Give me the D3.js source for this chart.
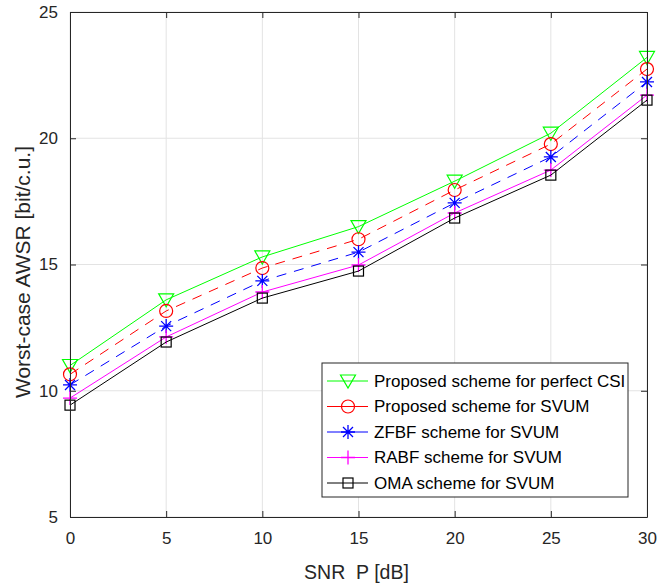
<!DOCTYPE html>
<html>
<head>
<meta charset="utf-8">
<script src="https://cdn.jsdelivr.net/npm/d3@7"></script>
<style>
  body { margin: 0; background: #fff; }
  svg { font-family: "Liberation Sans", Arial, sans-serif; }
</style>
</head>
<body>
<div id="chart"></div>
<script>
// Chart data
const snr = [0, 5, 10, 15, 20, 25, 30];
const perfectCsi = [11.0, 13.6, 15.3, 16.5, 18.3, 20.2, 23.2];
const proposedSvum = [10.65, 13.16, 14.86, 16.0, 17.95, 19.77, 22.74];
const zfbfSvum = [10.23, 12.56, 14.35, 15.49, 17.44, 19.26, 22.23];
const rabfSvum = [9.71, 12.13, 13.91, 14.98, 17.04, 18.74, 21.71];
const omaSvum = [9.43, 11.93, 13.67, 14.74, 16.84, 18.54, 21.51];
const xTicks = [0, 5, 10, 15, 20, 25, 30];
const yTicks = [5, 10, 15, 20, 25];

const seriesNames = [
    "Proposed scheme for perfect CSI",
    "Proposed scheme for SVUM",
    "ZFBF scheme for SVUM",
    "RABF scheme for SVUM",
    "OMA scheme for SVUM"
];

const WIDTH = 672;
const HEIGHT = 585;
const MARGIN = { left: 70, top: 12, right: 25, bottom: 68 };

const series = [
    { name: seriesNames[0], values: perfectCsi, color: "#00ff00", dash: null, marker: "triangle" },
    { name: seriesNames[1], values: proposedSvum, color: "#ff0000", dash: "10,8", marker: "circle" },
    { name: seriesNames[2], values: zfbfSvum, color: "#0000ff", dash: "10,8", marker: "star" },
    { name: seriesNames[3], values: rabfSvum, color: "#ff00ff", dash: null, marker: "plus" },
    { name: seriesNames[4], values: omaSvum, color: "#000000", dash: null, marker: "square" }
];

const svg = d3.select("#chart").append("svg")
    .attr("width", WIDTH).attr("height", HEIGHT);

const plotW = WIDTH - MARGIN.left - MARGIN.right;
const plotH = HEIGHT - MARGIN.top - MARGIN.bottom;

const x = d3.scaleLinear().domain([0, 30]).range([0, plotW]);
const y = d3.scaleLinear().domain([5, 25]).range([plotH, 0]);

const g = svg.append("g").attr("transform", `translate(${MARGIN.left},${MARGIN.top})`);

// grid
g.append("g").selectAll("line").data(xTicks).join("line")
    .attr("x1", d => x(d)).attr("x2", d => x(d))
    .attr("y1", 0).attr("y2", plotH)
    .attr("stroke", "#e3e3e3").attr("stroke-width", 1);
g.append("g").selectAll("line").data(yTicks).join("line")
    .attr("x1", 0).attr("x2", plotW)
    .attr("y1", d => y(d)).attr("y2", d => y(d))
    .attr("stroke", "#e3e3e3").attr("stroke-width", 1);

// marker drawing
function drawMarker(sel, type, color) {
    if (type === "triangle") {
        sel.append("path").attr("d", "M-7.5,-6 L7.5,-6 L0,7 Z")
            .attr("fill", "none").attr("stroke", color).attr("stroke-width", 1.2);
    } else if (type === "circle") {
        sel.append("circle").attr("r", 6.5)
            .attr("fill", "none").attr("stroke", color).attr("stroke-width", 1.2);
    } else if (type === "star") {
        sel.append("path").attr("d", "M-7,0 L7,0 M0,-7 L0,7 M-5,-5 L5,5 M-5,5 L5,-5")
            .attr("stroke", color).attr("stroke-width", 1.3);
    } else if (type === "plus") {
        sel.append("path").attr("d", "M-7,0 L7,0 M0,-7 L0,7")
            .attr("stroke", color).attr("stroke-width", 1.3);
    } else if (type === "square") {
        sel.append("rect").attr("x", -5).attr("y", -5).attr("width", 10).attr("height", 10)
            .attr("fill", "none").attr("stroke", color).attr("stroke-width", 1.2);
    }
}

const line = d3.line().x((d, i) => x(snr[i])).y(d => y(d));

series.forEach(s => {
    g.append("path").datum(s.values)
        .attr("fill", "none")
        .attr("stroke", s.color)
        .attr("stroke-width", 1)
        .attr("stroke-dasharray", s.dash)
        .attr("d", line);
    s.values.forEach((v, i) => {
        const m = g.append("g").attr("transform", `translate(${x(snr[i])},${y(v)})`);
        drawMarker(m, s.marker, s.color);
    });
});

// axes (box with inward ticks)
const xAxis = g.append("g").attr("transform", `translate(0,${plotH})`)
    .call(d3.axisBottom(x).tickValues(xTicks).tickSize(-6).tickPadding(12).tickSizeOuter(0));
const yAxis = g.append("g")
    .call(d3.axisLeft(y).tickValues(yTicks).tickSize(-6).tickPadding(12).tickSizeOuter(0));
g.append("g").call(d3.axisTop(x).tickValues(xTicks).tickSize(-6).tickFormat("").tickSizeOuter(0));
g.append("g").attr("transform", `translate(${plotW},0)`)
    .call(d3.axisRight(y).tickValues(yTicks).tickSize(-6).tickFormat("").tickSizeOuter(0));

g.selectAll(".domain").attr("stroke", "#262626");
g.selectAll(".tick line").attr("stroke", "#262626");
g.selectAll(".tick text").attr("font-size", 17).attr("fill", "#262626")
    .attr("font-family", "Liberation Sans, Arial, sans-serif");
xAxis.selectAll(".tick text").attr("dy", "0.9em");

// axis labels
svg.append("text")
    .attr("x", MARGIN.left + plotW / 2 - 2).attr("y", 579)
    .attr("text-anchor", "middle").attr("font-size", 19.5).attr("fill", "#262626")
    .attr("xml:space", "preserve")
    .text("SNR  P [dB]");
svg.append("text")
    .attr("transform", `translate(30,272) rotate(-90)`)
    .attr("text-anchor", "middle").attr("font-size", 21).attr("fill", "#262626")
    .text("Worst-case AWSR [bit/c.u.]");

// legend
const legend = svg.append("g").attr("transform", "translate(322,363)");
legend.append("rect").attr("width", 306).attr("height", 134)
    .attr("fill", "#fff").attr("stroke", "#262626").attr("stroke-width", 1);
series.forEach((s, i) => {
    const row = legend.append("g").attr("transform", `translate(0,${18 + i * 25.5})`);
    row.append("line").attr("x1", 5).attr("x2", 46).attr("y1", 0).attr("y2", 0)
        .attr("stroke", s.color).attr("stroke-width", 1);
    const m = row.append("g").attr("transform", "translate(26,0)");
    drawMarker(m, s.marker, s.color);
    row.append("text").attr("x", 52).attr("y", 0).attr("dy", "0.35em")
        .attr("font-size", 17).attr("fill", "#000").text(s.name);
});
</script>
</body>
</html>
